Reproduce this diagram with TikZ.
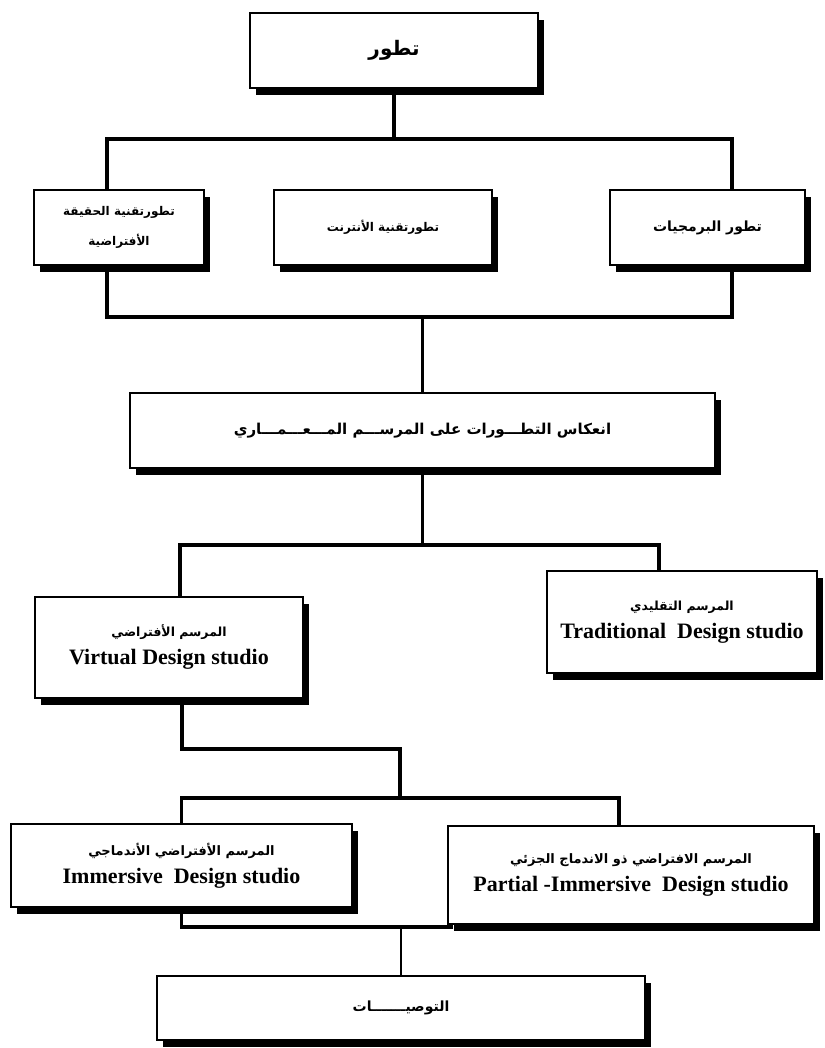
\documentclass[tikz,border=0pt]{standalone}
\usepackage{fontspec}
\setmainfont{Liberation Serif}
\newfontfamily\arabicfont[Script=Arabic]{DejaVu Sans}
\TeXXeTstate=1
\usetikzlibrary{shadows}
\newcommand{\artext}[1]{{\arabicfont\bfseries\beginR #1\endR}}
\begin{document}
\begin{tikzpicture}
    [x=1pt,y=-1pt,
     box/.style={draw=black,line width=2pt,fill=white,align=center,
       font=\bfseries\fontsize{22}{28}\selectfont,
       drop shadow={shadow xshift=6pt,shadow yshift=-7pt,fill=black,opacity=1}},
     small/.style={font=\fontsize{12}{30}\selectfont},
     link/.style={line width=3.2pt},
     thinlink/.style={line width=1.5pt}]
    \useasboundingbox (0,0) rectangle (824,1048);
    % row levels of the brackets
    \coordinate (L1) at (0,139);
    \coordinate (L2) at (0,317);
    \coordinate (L3) at (0,545);
    \coordinate (J) at (400,749);
    \coordinate (L4) at (0,798);
    \coordinate (L5) at (0,927);
    \node [box,minimum width=288pt,minimum height=75pt] (A) at (394,50.5)
      {\fontsize{20}{24}\selectfont\artext{تطور}};
    \node [box,small,minimum width=170pt,minimum height=75pt] (B) at (119,227.5)
      {\artext{تطورتقنية الحقيقة}\\ \artext{الأفتراضية}};
    \node [box,small,minimum width=218pt,minimum height=75pt] (C) at (383,227.5)
      {\artext{تطورتقنية الأنترنت}};
    \node [box,minimum width=195pt,minimum height=75pt] (D) at (707.5,227.5)
      {\fontsize{14}{20}\selectfont\artext{تطور البرمجيات}};
    \node [box,minimum width=585pt,minimum height=75pt] (E) at (422.5,430.5)
      {\fontsize{15}{20}\selectfont\artext{انعكاس التطـــورات على المرســـم المـــعـــمـــاري}};
    \node [box,minimum width=268pt,minimum height=101pt] (F) at (169,647.5)
      {{\fontsize{12.5}{20}\selectfont\artext{المرسم الأفتراضي}}\\ Virtual Design studio};
    \node [box,minimum width=270pt,minimum height=102pt] (G) at (682,622)
      {{\fontsize{12.5}{20}\selectfont\artext{المرسم التقليدي}}\\ Traditional\ \ Design studio};
    \node [box,minimum width=341pt,minimum height=83pt] (H) at (181.5,865.5)
      {{\fontsize{13}{20}\selectfont\artext{المرسم الأفتراضي الأندماجي}}\\ Immersive\ \ Design studio};
    \node [box,minimum width=366pt,minimum height=98pt] (I) at (631,875)
      {{\fontsize{13}{20}\selectfont\artext{المرسم الافتراضي ذو الاندماج الجزئي}}\\ Partial -Immersive\ \ Design studio};
    \node [box,minimum width=488pt,minimum height=64pt] (K) at (401,1008)
      {\fontsize{14}{20}\selectfont\artext{التوصيـــــــات}};
    \draw [link] (A.south) -- (A.south |- L1);
    \draw [link] ([xshift=-12pt]B.north) |- ([xshift=24.5pt]D.north |- L1)
      -- ([xshift=24.5pt]D.north);
    \draw [link] ([xshift=-12pt]B.south) |- ([xshift=24.5pt]D.south |- L2)
      -- ([xshift=24.5pt]D.south);
    \draw [link] (E.north) -- (E.north |- L2);
    \draw [link] (E.south) -- (E.south |- L3);
    \draw [link] ([xshift=11pt]F.north) |- ([xshift=-23pt]G.north |- L3)
      -- ([xshift=-23pt]G.north);
    \draw [link] ([xshift=13pt]F.south) |- (J) -- (J |- L4);
    \draw [link] (H.north) |- ([xshift=-12pt]I.north |- L4)
      -- ([xshift=-12pt]I.north);
    \draw [link] (H.south) -- (H.south |- L5) -- ([xshift=6pt]I.south west |- L5);
    \draw [thinlink] (K.north) -- (K.north |- L5);
  \end{tikzpicture}
\end{document}
